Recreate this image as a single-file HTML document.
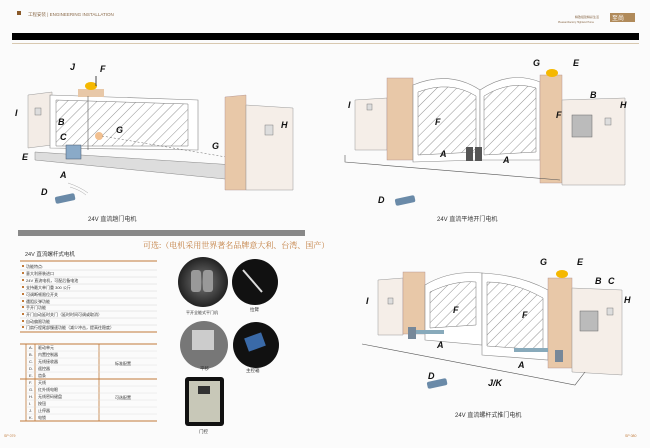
<!DOCTYPE html>
<html><head><meta charset="utf-8"><style>
html,body{margin:0;padding:0;background:#fbfbfb;}
svg{display:block;font-family:"Liberation Sans","Noto Sans CJK SC",sans-serif;}
.l{font-weight:bold;font-style:italic;font-size:9px;fill:#111}
.c{font-size:6px;fill:#333}
</style></head><body>
<svg width="650" height="448" viewBox="0 0 650 448" xmlns="http://www.w3.org/2000/svg">
<defs>
<pattern id="h" width="7" height="7" patternUnits="userSpaceOnUse" patternTransform="rotate(45)"><rect width="7" height="7" fill="#fff"/><line x1="0" y1="0" x2="0" y2="7" stroke="#777" stroke-width="0.8"/></pattern>
<radialGradient id="g1"><stop offset="0" stop-color="#777"/><stop offset="1" stop-color="#222"/></radialGradient>
</defs>
<rect width="650" height="448" fill="#fbfbfb"/>
<!-- header -->
<rect x="17" y="11" width="4" height="4" fill="#8a5a2a"/>
<text x="28" y="16" font-size="4.5" fill="#8a6a4a">工程安装 | ENGINEERING INSTALLATION</text>
<text x="575" y="18" font-size="3" fill="#8a6a4a">精致组建精彩生活</text>
<text x="558" y="23" font-size="2.5" fill="#8a6a4a">PleasantFactory Highland Home</text>
<rect x="610" y="13" width="25" height="9" fill="#b08a5a"/>
<text x="612" y="20" font-size="6" fill="#fff">至尚</text>
<rect x="12" y="33" width="627" height="7" fill="#000"/>
<rect x="12" y="43" width="627" height="1" fill="#d8c8b0"/>
<!-- TOP-LEFT diagram -->
<polygon points="28,95 52,92 52,145 28,148" fill="#f3ece6" stroke="#999" stroke-width=".5"/>
<polygon points="50,95 198,100 198,150 50,148" fill="#fff" stroke="#888" stroke-width=".6"/>
<polygon points="56,100 188,104 188,146 56,146" fill="url(#h)" stroke="#777" stroke-width=".5"/>
<rect x="78" y="89" width="26" height="8" fill="#e8c8a8"/>
<ellipse cx="91" cy="86" rx="6" ry="4" fill="#f5b800"/>
<line x1="96" y1="86" x2="96" y2="76" stroke="#444"/>
<line x1="88" y1="96" x2="88" y2="150" stroke="#555" stroke-width=".6"/>
<circle cx="99" cy="136" r="4" fill="#f2c090"/>
<line x1="102" y1="136" x2="232" y2="158" stroke="#666" stroke-dasharray="2,2" stroke-width=".5"/>
<polygon points="35,152 235,165 235,180 35,160" fill="#ddd" stroke="#888" stroke-width=".5"/>
<rect x="66" y="145" width="15" height="14" fill="#8aaac8" stroke="#456" stroke-width=".5"/>
<polygon points="225,97 246,95 246,190 225,190" fill="#e8c8a8" stroke="#a88" stroke-width=".4"/>
<polygon points="246,105 293,108 293,190 246,190" fill="#f5eee8" stroke="#999" stroke-width=".5"/>
<rect x="265" y="125" width="8" height="10" fill="#ddd" stroke="#666" stroke-width=".4"/>
<rect x="35" y="108" width="6" height="7" fill="#ddd" stroke="#666" stroke-width=".4"/>
<rect x="55" y="195" width="20" height="7" rx="2" fill="#6a8aa8" transform="rotate(-12 65 198)"/>
<path d="M68,183 q12,4 20,10 M70,187 q10,3 16,8" stroke="#aaa" fill="none" stroke-width=".5"/>
<text class="l" x="70" y="70">J</text><text class="l" x="100" y="72">F</text><text class="l" x="15" y="116">I</text>
<text class="l" x="58" y="125">B</text><text class="l" x="60" y="140">C</text><text class="l" x="22" y="160">E</text>
<text class="l" x="60" y="178">A</text><text class="l" x="41" y="195">D</text><text class="l" x="116" y="133">G</text>
<text class="l" x="212" y="149">G</text><text class="l" x="281" y="128">H</text>
<text class="c" x="88" y="221">24V 直流趟门电机</text>
<!-- TOP-RIGHT diagram -->
<polygon points="355,100 387,98 387,150 355,150" fill="#f5eee8" stroke="#999" stroke-width=".5"/>
<rect x="387" y="78" width="26" height="82" fill="#e8c8a8" stroke="#a88" stroke-width=".4"/>
<path d="M413,85 Q450,70 480,90 L480,160 L413,162 Z" fill="#fff" stroke="#888" stroke-width=".6"/>
<path d="M418,92 Q450,80 476,96 L476,152 L418,155 Z" fill="url(#h)" stroke="#777" stroke-width=".5"/>
<path d="M480,90 Q510,70 540,82 L540,160 L480,160 Z" fill="#fff" stroke="#888" stroke-width=".6"/>
<path d="M484,96 Q510,80 536,88 L536,152 L484,155 Z" fill="url(#h)" stroke="#777" stroke-width=".5"/>
<rect x="540" y="75" width="22" height="108" fill="#e8c8a8" stroke="#a88" stroke-width=".4"/>
<polygon points="562,100 625,98 625,185 562,185" fill="#f5eee8" stroke="#999" stroke-width=".5"/>
<rect x="572" y="115" width="20" height="22" fill="#bbb" stroke="#666" stroke-width=".5"/>
<ellipse cx="552" cy="73" rx="6" ry="4" fill="#f5b800"/>
<rect x="466" y="147" width="7" height="14" fill="#555"/><rect x="475" y="147" width="7" height="14" fill="#555"/>
<polyline points="345,155 345,162 560,180" stroke="#555" fill="none" stroke-width=".6"/>
<rect x="367" y="104" width="5" height="6" fill="#ddd" stroke="#666" stroke-width=".4"/>
<rect x="605" y="118" width="6" height="7" fill="#ddd" stroke="#666" stroke-width=".4"/>
<rect x="395" y="197" width="20" height="7" rx="2" fill="#6a8aa8" transform="rotate(-12 405 200)"/>
<text class="l" x="533" y="66">G</text><text class="l" x="573" y="66">E</text><text class="l" x="348" y="108">I</text>
<text class="l" x="590" y="98">B</text><text class="l" x="620" y="108">H</text><text class="l" x="435" y="125">F</text>
<text class="l" x="556" y="118">F</text><text class="l" x="440" y="157">A</text><text class="l" x="503" y="163">A</text>
<text class="l" x="378" y="203">D</text>
<text class="c" x="437" y="221">24V 直流平地开门电机</text>
<!-- divider bar -->
<rect x="18" y="230" width="287" height="6" fill="#888"/>
<!-- spec area -->
<text x="143" y="248" font-size="8" fill="#c07a3a" font-family="Liberation Serif,Noto Serif CJK SC,serif">可选:（电机采用世界著名品牌意大利、台湾、国产）</text>
<text x="25" y="256" font-size="5.5" fill="#333">24V 直流螺杆式电机</text>
<line x1="20" y1="261" x2="157" y2="261" stroke="#c07a3a" stroke-width="1"/>
<g font-size="4" fill="#333">
<text x="26" y="268">功能特点:</text><text x="26" y="275">意大利原装进口</text><text x="26" y="282">24V 直流电机，可配后备电池</text>
<text x="26" y="289">支持最大单门重 300 公斤</text><text x="26" y="296">可调断顿限位开关</text><text x="26" y="303">遇阻反弹功能</text>
<text x="26" y="309">手开门功能</text><text x="26" y="316">开门自动延时关门（延时时间可调或取消）</text><text x="26" y="323">自动偏限功能</text>
<text x="26" y="329">门扇行程尾部慢速功能（减少冲击，提高往稳度）</text>
</g>
<g stroke="#ccc" stroke-width=".4">
<line x1="20" y1="270" x2="157" y2="270"/><line x1="20" y1="277" x2="157" y2="277"/><line x1="20" y1="284" x2="157" y2="284"/>
<line x1="20" y1="291" x2="157" y2="291"/><line x1="20" y1="298" x2="157" y2="298"/><line x1="20" y1="305" x2="157" y2="305"/>
<line x1="20" y1="311" x2="157" y2="311"/><line x1="20" y1="318" x2="157" y2="318"/><line x1="20" y1="325" x2="157" y2="325"/>
</g>
<g fill="#c07a3a"><rect x="22" y="265" width="2" height="2"/><rect x="22" y="272" width="2" height="2"/><rect x="22" y="279" width="2" height="2"/><rect x="22" y="286" width="2" height="2"/><rect x="22" y="293" width="2" height="2"/><rect x="22" y="300" width="2" height="2"/><rect x="22" y="306" width="2" height="2"/><rect x="22" y="313" width="2" height="2"/><rect x="22" y="320" width="2" height="2"/><rect x="22" y="326" width="2" height="2"/></g>
<line x1="20" y1="332" x2="157" y2="332" stroke="#c07a3a" stroke-width="1"/>
<!-- table -->
<line x1="20" y1="344" x2="157" y2="344" stroke="#c07a3a" stroke-width="1"/>
<line x1="20" y1="379" x2="157" y2="379" stroke="#c07a3a" stroke-width="1"/>
<line x1="20" y1="421" x2="157" y2="421" stroke="#c07a3a" stroke-width="1"/>
<g stroke="#c07a3a" stroke-width=".8"><line x1="26" y1="344" x2="26" y2="421"/><line x1="35" y1="344" x2="35" y2="421"/><line x1="99" y1="344" x2="99" y2="421"/></g>
<g stroke="#ddd" stroke-width=".4"><line x1="26" y1="351" x2="157" y2="351"/><line x1="26" y1="358" x2="157" y2="358"/><line x1="26" y1="365" x2="157" y2="365"/><line x1="26" y1="372" x2="157" y2="372"/><line x1="26" y1="386" x2="157" y2="386"/><line x1="26" y1="393" x2="157" y2="393"/><line x1="26" y1="400" x2="157" y2="400"/><line x1="26" y1="407" x2="157" y2="407"/><line x1="26" y1="414" x2="157" y2="414"/></g>
<g font-size="4" fill="#333">
<text x="29" y="349">A.</text><text x="38" y="349">驱动单元</text>
<text x="29" y="356">B.</text><text x="38" y="356">内置控制器</text>
<text x="29" y="363">C.</text><text x="38" y="363">无线接收器</text>
<text x="29" y="370">D.</text><text x="38" y="370">遥控器</text>
<text x="29" y="377">E.</text><text x="38" y="377">齿条</text>
<text x="29" y="384">F.</text><text x="38" y="384">天线</text>
<text x="29" y="391">G.</text><text x="38" y="391">红外线电眼</text>
<text x="29" y="398">H.</text><text x="38" y="398">无线密码键盘</text>
<text x="29" y="405">I.</text><text x="38" y="405">按钮</text>
<text x="29" y="412">J.</text><text x="38" y="412">止停器</text>
<text x="29" y="419">K.</text><text x="38" y="419">电锁</text>
<text x="115" y="365">标准配置</text><text x="115" y="399">可选配置</text>
</g>
<!-- product images -->
<circle cx="203" cy="282" r="25" fill="url(#g1)"/>
<rect x="191" y="270" width="10" height="22" rx="3" fill="#999"/><rect x="203" y="270" width="10" height="22" rx="3" fill="#999"/>
<circle cx="255" cy="282" r="23" fill="#111"/>
<line x1="243" y1="270" x2="262" y2="292" stroke="#ddd" stroke-width="2"/>
<text x="186" y="314" font-size="4" fill="#333">平开全能式平门机</text>
<text x="250" y="311" font-size="4.5" fill="#333">拉臂</text>
<circle cx="204" cy="345" r="24" fill="#777"/>
<rect x="192" y="330" width="22" height="20" fill="#ccc"/>
<text x="200" y="370" font-size="4.5" fill="#333">平移</text>
<circle cx="256" cy="345" r="23" fill="#111"/>
<rect x="246" y="335" width="18" height="14" fill="#3a6aa8" transform="rotate(-20 255 342)"/>
<text x="246" y="372" font-size="4.5" fill="#333">主控箱</text>
<rect x="185" y="377" width="39" height="49" rx="3" fill="#111"/>
<rect x="189" y="381" width="31" height="41" fill="#c8c8b8"/>
<rect x="198" y="386" width="12" height="8" fill="#333"/>
<text x="199" y="433" font-size="4.5" fill="#333">门控</text>
<text x="4" y="437" font-size="3.5" fill="#c07a3a">SP 079</text>
<!-- BOTTOM-RIGHT diagram -->
<polygon points="378,280 403,278 403,335 378,335" fill="#f5eee8" stroke="#999" stroke-width=".5"/>
<rect x="403" y="272" width="22" height="62" fill="#e8c8a8" stroke="#a88" stroke-width=".4"/>
<path d="M425,285 Q450,270 482,273 L482,345 L425,340 Z" fill="#fff" stroke="#888" stroke-width=".6"/>
<path d="M430,292 Q455,280 476,282 L476,325 L430,328 Z" fill="url(#h)" stroke="#777" stroke-width=".5"/>
<path d="M482,273 Q520,275 548,290 L548,360 L482,355 Z" fill="#fff" stroke="#888" stroke-width=".6"/>
<path d="M487,282 Q515,282 543,298 L543,350 L487,346 Z" fill="url(#h)" stroke="#777" stroke-width=".5"/>
<rect x="548" y="278" width="24" height="90" fill="#e8c8a8" stroke="#a88" stroke-width=".4"/>
<polygon points="572,288 622,290 622,375 572,372" fill="#f5eee8" stroke="#999" stroke-width=".5"/>
<rect x="580" y="311" width="18" height="20" fill="#bbb" stroke="#666" stroke-width=".5"/>
<ellipse cx="562" cy="274" rx="6" ry="4" fill="#f5b800"/>
<rect x="410" y="330" width="34" height="4" fill="#8ab" /><rect x="514" y="348" width="34" height="4" fill="#8ab"/>
<rect x="408" y="327" width="8" height="12" fill="#789"/><rect x="555" y="350" width="8" height="12" fill="#789"/>
<polyline points="362,344 575,385 585,372" stroke="#555" fill="none" stroke-width=".6"/>
<rect x="388" y="298" width="5" height="6" fill="#ddd" stroke="#666" stroke-width=".4"/>
<rect x="607" y="308" width="6" height="7" fill="#ddd" stroke="#666" stroke-width=".4"/>
<rect x="427" y="380" width="20" height="7" rx="2" fill="#6a8aa8" transform="rotate(-12 437 383)"/>
<text class="l" x="540" y="265">G</text><text class="l" x="577" y="265">E</text><text class="l" x="595" y="284">B</text>
<text class="l" x="608" y="284">C</text><text class="l" x="624" y="303">H</text><text class="l" x="366" y="304">I</text>
<text class="l" x="453" y="313">F</text><text class="l" x="522" y="318">F</text><text class="l" x="437" y="348">A</text>
<text class="l" x="518" y="368">A</text><text class="l" x="428" y="379">D</text><text class="l" x="488" y="386" font-size="7">J/K</text>
<text class="c" x="455" y="417">24V 直流螺杆式推门电机</text>
<text x="625" y="437" font-size="3.5" fill="#c07a3a">SP 080</text>
</svg>
</body></html>
